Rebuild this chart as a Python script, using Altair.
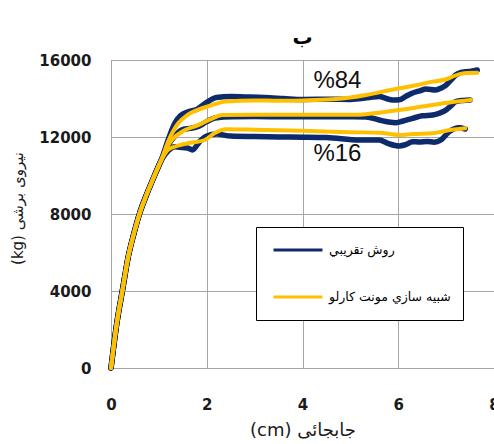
import altair as alt
import pandas as pd

# Method names (legend entries)
METHOD_APPROX = "روش تقريبي"
METHOD_MC = "شبيه سازي مونت كارلو"

# Initial elastic rise shared by all curves
rise_x = [0, 0.05, 0.12, 0.24, 0.36, 0.48, 0.6, 0.75, 0.9, 1.05]
rise_y = [0, 1000, 2300, 4050, 5780, 7000, 8050, 9050, 9950, 10800]

# Approximate method: 84%, 50%, 16% curves
approx84_x = [1.2, 1.33, 1.45, 1.6, 1.8, 2.0, 2.2, 2.5, 2.8, 3.2, 3.6, 4.0, 4.5, 5.0, 5.4, 5.6,
              5.75, 5.88, 6.02, 6.15, 6.3, 6.45, 6.58, 6.78, 6.9, 7.0, 7.1, 7.2, 7.3, 7.4, 7.52, 7.65]
approx84_y = [11900, 12700, 13100, 13300, 13450, 13800, 14050, 14100, 14080, 14050, 14000, 13950,
              13960, 13950, 14050, 14100, 14000, 13920, 13930, 14100, 14286, 14400, 14494, 14442,
              14550, 14700, 14950, 15220, 15350, 15390, 15420, 15480]

approx50_x = [1.2, 1.35, 1.47, 1.65, 1.81, 2.0, 2.17, 2.54, 3.0, 3.5, 4.0, 4.5, 5.0, 5.33, 5.6,
              5.8, 5.95, 6.1, 6.3, 6.5, 6.72, 6.85, 7.0, 7.1, 7.2, 7.35, 7.5]
approx50_y = [11600, 12100, 12364, 12450, 12536, 12800, 12988, 13055, 13060, 13050, 13050, 13055,
              13050, 13040, 12884, 12780, 12745, 12830, 12970, 13100, 13143, 13230, 13403, 13620,
              13836, 13900, 13922]

approx16_x = [1.2, 1.33, 1.5, 1.6, 1.7, 1.85, 2.0, 2.2, 2.5, 3.0, 3.5, 4.0, 4.5, 5.19, 5.6, 5.8,
              6.02, 6.15, 6.3, 6.44, 6.6, 6.75, 6.89, 7.06, 7.27, 7.4]
approx16_y = [11300, 11497, 11450, 11430, 11325, 11757, 12050, 12150, 12050, 12020, 12000, 11990,
              11970, 11844, 11844, 11650, 11533, 11600, 11757, 11740, 11770, 11730, 11844, 12276,
              12484, 12415]

# Monte Carlo simulation: 84%, 50%, 16% curves
mc84_x = [1.2, 1.4, 1.6, 1.8, 2.06, 2.4, 3.0, 3.5, 4.0, 4.63, 5.0, 5.33, 5.6, 6.02, 6.4, 6.71,
          7.0, 7.13, 7.3, 7.45, 7.65]
mc84_y = [11800, 12700, 13150, 13400, 13620, 13850, 13900, 13880, 13900, 13960, 14050, 14180,
          14320, 14530, 14700, 14875, 15000, 15135, 15280, 15330, 15340]

mc50_x = [1.2, 1.5, 1.81, 2.06, 2.33, 3.0, 4.0, 4.6, 5.2, 5.6, 6.02, 6.71, 7.1, 7.52]
mc50_y = [11600, 12300, 12600, 12900, 13143, 13150, 13150, 13150, 13160, 13265, 13403, 13663,
          13800, 13922]

mc16_x = [1.2, 1.4, 1.6, 1.96, 2.17, 2.4, 3.0, 4.0, 4.63, 5.0, 5.6, 6.02, 6.3, 6.71, 7.0, 7.4]
mc16_y = [11350, 11550, 11672, 11844, 12208, 12400, 12380, 12330, 12276, 12250, 12224, 12104,
          12156, 12190, 12328, 12450]

# Percentile annotations
note_text = ["%84", "%16"]
note_x = [4.73, 4.73]
note_y = [14930, 11120]

x_ticks = [0, 2, 4, 6, 8]
y_ticks = [0, 4000, 8000, 12000, 16000]

curves = [
    (METHOD_APPROX, "a84", approx84_x, approx84_y),
    (METHOD_APPROX, "a50", approx50_x, approx50_y),
    (METHOD_APPROX, "a16", approx16_x, approx16_y),
    (METHOD_MC, "m84", mc84_x, mc84_y),
    (METHOD_MC, "m50", mc50_x, mc50_y),
    (METHOD_MC, "m16", mc16_x, mc16_y),
]

rows = []
for method, cid, xs, ys in curves:
    full_x = rise_x + xs
    full_y = rise_y + ys
    for i, (xv, yv) in enumerate(zip(full_x, full_y)):
        rows.append({"method": method, "curve": cid, "x": xv, "y": yv, "order": i})
df = pd.DataFrame(rows)
notes = pd.DataFrame({"text": note_text, "x": note_x, "y": note_y})

GRID = "#A6A6A6"
BLUE = "#0D2A6B"
GOLD = "#FFC000"

x_enc = alt.X(
    "x:Q",
    scale=alt.Scale(domain=[0, 8], nice=False),
    axis=alt.Axis(
        values=x_ticks, title="(cm) جابجائی", grid=True, ticks=False, labelFlush=False,
        labelPadding=29, titleBaseline="alphabetic", titleY=67, titleX=191.5,
        titleFontSize=18, titleFontWeight="normal", titleFont="DejaVu Sans",
    ),
)
y_enc = alt.Y(
    "y:Q",
    scale=alt.Scale(domain=[0, 16000], nice=False),
    axis=alt.Axis(
        values=y_ticks, format="d", title="(kg) نیروی برشی", grid=True, ticks=False,
        labelPadding=20, titleX=-86, titleY=148, titleAngle=-90,
        titleFontSize=15, titleFontWeight="normal", titleFont="DejaVu Sans",
    ),
)
color_enc = alt.Color(
    "method:N",
    scale=alt.Scale(domain=[METHOD_APPROX, METHOD_MC], range=[BLUE, GOLD]),
    legend=alt.Legend(
        title=None, orient="none", legendX=145, legendY=167,
        symbolType="stroke", symbolSize=2401, symbolStrokeWidth=3,
        clipHeight=22, rowPadding=25, padding=12, symbolOffset=4, labelOffset=5,
        strokeColor="#000000", fillColor="#FFFFFF",
        labelFont="DejaVu Sans", labelFontSize=12.5, labelColor="#000000", labelLimit=300,
    ),
)

approx_lines = (
    alt.Chart(df)
    .transform_filter(alt.datum.method == METHOD_APPROX)
    .mark_line(strokeWidth=5.5, strokeJoin="round", strokeCap="round", interpolate="monotone")
    .encode(x=x_enc, y=y_enc, color=color_enc, detail="curve:N", order="order:Q")
)
mc_lines = (
    alt.Chart(df)
    .transform_filter(alt.datum.method == METHOD_MC)
    .mark_line(strokeWidth=4, strokeJoin="round", strokeCap="round", interpolate="monotone")
    .encode(x=x_enc, y=y_enc, color=color_enc, detail="curve:N", order="order:Q")
)
labels = (
    alt.Chart(notes)
    .mark_text(font="Liberation Sans", fontSize=24, color="#111111", align="center", baseline="middle")
    .encode(x="x:Q", y="y:Q", text="text:N")
)

chart = (
    alt.layer(approx_lines, mc_lines, labels)
    .properties(
        width=383, height=308,
        autosize=alt.AutoSizeParams(type="none"),
        padding={"left": 111, "top": 60, "right": 0, "bottom": 76},
        background="#FFFFFF",
        title=alt.TitleParams("ب", anchor="middle", fontSize=20, font="DejaVu Sans",
                              fontWeight="bold", offset=5, color="#000000"),
    )
    .configure_view(stroke=GRID, strokeWidth=1)
    .configure_axis(
        gridColor=GRID, gridWidth=1, domainColor=GRID, domainWidth=1,
        labelFont="DejaVu Sans", labelFontWeight="bold", labelFontSize=15, labelColor="#1A1A1A",
        titleColor="#1A1A1A",
    )
)

chart.save("out.html", embed_options={"renderer": "svg", "actions": False})
